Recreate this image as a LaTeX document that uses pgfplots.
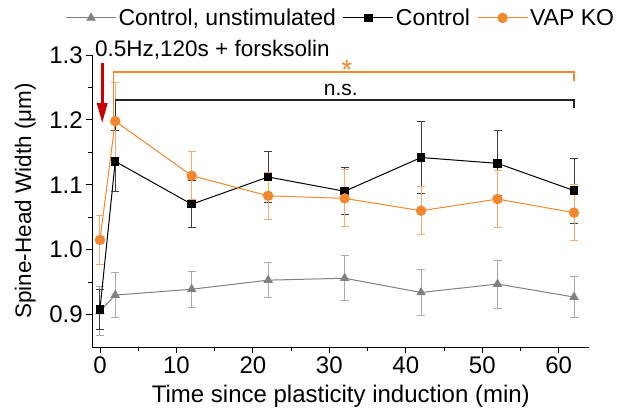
\documentclass[border=0pt]{standalone}
\usepackage{pgfplots}
\pgfplotsset{compat=1.18}
\usepackage{pgfplotstable}
\usetikzlibrary{arrows.meta}
\usepackage{fontspec}
\setmainfont{Liberation Sans}
\definecolor{vaporange}{RGB}{242,135,45}
\definecolor{vaplight}{RGB}{246,170,110}
\definecolor{ctrlgray}{RGB}{128,128,128}
\definecolor{graylight}{RGB}{170,170,170}
\definecolor{arrowred}{RGB}{204,0,0}

% time (min), mean width (um), error
\pgfplotstableread{
x y e
0  0.905 0.038
2  0.930 0.035
12 0.939 0.028
22 0.953 0.027
32 0.956 0.035
42 0.934 0.036
52 0.947 0.037
62 0.927 0.032
}\unstim
\pgfplotstableread{
x y e
0  0.908 0.031
2  1.136 0.047
12 1.070 0.036
22 1.112 0.040
32 1.090 0.036
42 1.142 0.055
52 1.133 0.050
62 1.091 0.050
}\control
\pgfplotstableread{
x y e
0  1.015 0.038
2  1.198 0.059
12 1.114 0.037
22 1.083 0.036
32 1.079 0.044
42 1.060 0.037
52 1.078 0.044
62 1.057 0.043
}\vapko

\begin{document}
\begin{tikzpicture}
\begin{axis}[
  scale only axis, width=497pt, height=292pt,
  xmin=-1, xmax=64, ymin=0.85, ymax=1.3,
  axis lines*=left,
  clip=false,
  xtick={0,10,...,60}, minor xtick={5,15,...,55},
  ytick={0.9,1.0,1.1,1.2,1.3}, minor ytick={0.95,1.05,1.15,1.25},
  tick align=outside, major tick length=6pt, minor tick length=4pt,
  tick style={black, line width=0.8pt},
  axis line style={line width=0.8pt},
  yticklabel style={/pgf/number format/fixed, /pgf/number format/precision=1, /pgf/number format/fixed zerofill},
  /pgf/number format/assume math mode=true,
  tick label style={font=\fontsize{24}{24}\selectfont},
  xlabel={Time since plasticity induction (min)},
  ylabel={Spine-Head Width (μm)},
  xlabel style={font=\fontsize{24}{24}\selectfont, at={(axis description cs:0.5,-0.168)}, anchor=center},
  ylabel style={font=\fontsize{22.5}{22.5}\selectfont, at={(axis description cs:-0.135,0.5)}, anchor=center},
  legend columns=3,
  legend style={at={(axis description cs:0.5,1.127)}, anchor=center, draw=none, fill=none,
    font=\fontsize{23}{23}\selectfont,
    /tikz/every even column/.append style={column sep=5pt}},
  legend image code/.code={\draw[#1, mark repeat=2, mark phase=2] plot coordinates {(0pt,0pt) (25pt,0pt) (50pt,0pt)};},
  error bars/y dir=both, error bars/y explicit,
]
\addplot[ctrlgray, line width=1pt, mark=triangle*, mark size=4.5pt, mark options={solid},
  error bars/error bar style={graylight, line width=1pt},
  error bars/error mark options={rotate=90, mark size=4pt, graylight, line width=1pt}]
  table[x=x, y=y, y error=e] {\unstim};
\addlegendentry{Control, unstimulated}
\addplot[black, line width=1pt, mark=square*, mark size=3.7pt, mark options={solid},
  error bars/error bar style={black!75, line width=1pt},
  error bars/error mark options={rotate=90, mark size=4pt, black!75, line width=1pt}]
  table[x=x, y=y, y error=e] {\control};
\addlegendentry{Control}
\addplot[vaporange, line width=1pt, mark=*, mark size=4.7pt, mark options={solid},
  error bars/error bar style={vaplight, line width=1pt},
  error bars/error mark options={rotate=90, mark size=4pt, vaplight, line width=1pt}]
  table[x=x, y=y, y error=e] {\vapko};
\addlegendentry{VAP KO}

% significance brackets
\draw[color=vaporange, line width=1.5pt] (axis cs:1.8,1.2) -- (axis cs:1.8,1.2735) -- (axis cs:62,1.2735) -- (axis cs:62,1.26);
\node[text=vaporange, inner sep=0pt, anchor=base, font=\fontsize{28}{28}\selectfont] at (axis cs:32.3,1.263) {*};
\draw[black!85, line width=1.2pt] (axis cs:2,1.185) -- (axis cs:2,1.2307) -- (axis cs:62,1.2307) -- (axis cs:62,1.218);
\node[inner sep=0pt, font=\fontsize{21}{21}\selectfont, anchor=base] at (axis cs:31.5,1.238) {n.s.};

% stimulation arrow and label
\draw[arrowred, line width=3pt, -{Triangle[width=10pt, length=20pt]}] (axis cs:0.3,1.287) -- (axis cs:0.3,1.195);
\node[anchor=base west, inner sep=0pt, font=\fontsize{22.5}{22.5}\selectfont] at (axis cs:-0.65,1.298) {0.5Hz,120s + forsksolin};
\end{axis}
\pgfresetboundingbox
\path (current axis.south west) ++(-92.3pt,-63pt) coordinate (bbA);
\path (current axis.north east) ++(35.7pt,55pt) coordinate (bbB);
\path[use as bounding box] (bbA) rectangle (bbB);
\end{tikzpicture}
\end{document}
